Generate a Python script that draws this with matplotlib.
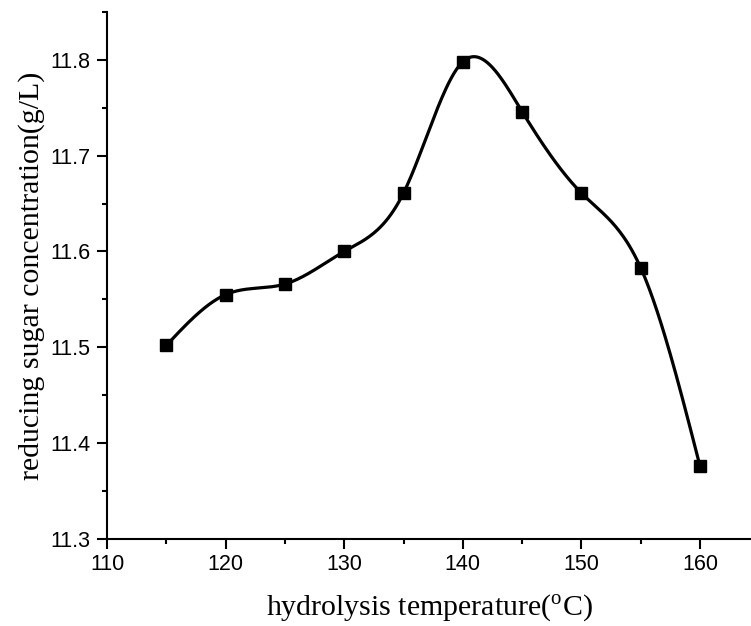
import numpy as np
import matplotlib
matplotlib.use("Agg")
import matplotlib.pyplot as plt
from matplotlib.ticker import MultipleLocator

# data
temperature = [115, 120, 125, 130, 135, 140, 145, 150, 155, 160]
sugar = [11.502, 11.555, 11.566, 11.600, 11.661, 11.798, 11.746, 11.661, 11.583, 11.376]


def natural_spline(x, y, xs):
    # plain natural cubic spline, numpy only
    x = np.asarray(x, float)
    y = np.asarray(y, float)
    n = len(x)
    h = np.diff(x)
    A = np.zeros((n, n))
    r = np.zeros(n)
    A[0, 0] = A[-1, -1] = 1.0
    for i in range(1, n - 1):
        A[i, i - 1] = h[i - 1]
        A[i, i] = 2 * (h[i - 1] + h[i])
        A[i, i + 1] = h[i]
        r[i] = 6 * ((y[i + 1] - y[i]) / h[i] - (y[i] - y[i - 1]) / h[i - 1])
    M = np.linalg.solve(A, r)
    idx = np.clip(np.searchsorted(x, xs) - 1, 0, n - 2)
    x0, x1 = x[idx], x[idx + 1]
    hh = x1 - x0
    t0 = x1 - xs
    t1 = xs - x0
    return (M[idx] * t0**3 / (6 * hh) + M[idx + 1] * t1**3 / (6 * hh)
            + (y[idx] / hh - M[idx] * hh / 6) * t0
            + (y[idx + 1] / hh - M[idx + 1] * hh / 6) * t1)


plt.rcParams['font.family'] = 'Liberation Sans'
plt.rcParams['mathtext.fontset'] = 'custom'
plt.rcParams['mathtext.rm'] = 'Liberation Serif'

fig = plt.figure(figsize=(7.51, 6.26), dpi=100)
ax = fig.add_axes([0.1425, 0.139, 0.8575, 0.842])

xs = np.linspace(temperature[0], temperature[-1], 400)
ax.plot(xs, natural_spline(temperature, sugar, xs), color='black', lw=2.3)
ax.plot(temperature, sugar, 's', color='black', ms=8.5)

ax.set_xlim(110, 164.3)
ax.set_ylim(11.3, 11.85)
ax.xaxis.set_major_locator(MultipleLocator(10))
ax.xaxis.set_minor_locator(MultipleLocator(5))
ax.yaxis.set_major_locator(MultipleLocator(0.1))
ax.yaxis.set_minor_locator(MultipleLocator(0.05))
ax.yaxis.set_major_formatter(matplotlib.ticker.FormatStrFormatter('%.1f'))

for s in ['top', 'right']:
    ax.spines[s].set_visible(False)
for s in ['left', 'bottom']:
    ax.spines[s].set_linewidth(1.5)

ax.tick_params(which='major', direction='out', length=7, width=1.5, labelsize=15.5)
ax.tick_params(axis='y', which='major', pad=5)
ax.tick_params(which='minor', direction='out', length=3.8, width=1.5)

ax.set_xlabel(r'hydrolysis temperature($^{\mathrm{o}}$C)', family='Liberation Serif',
              fontsize=21.5, labelpad=13)
ax.set_ylabel('reducing sugar concentration(g/L)', family='Liberation Serif',
              fontsize=21.5, labelpad=4)

fig.savefig('out.png', dpi=100)
